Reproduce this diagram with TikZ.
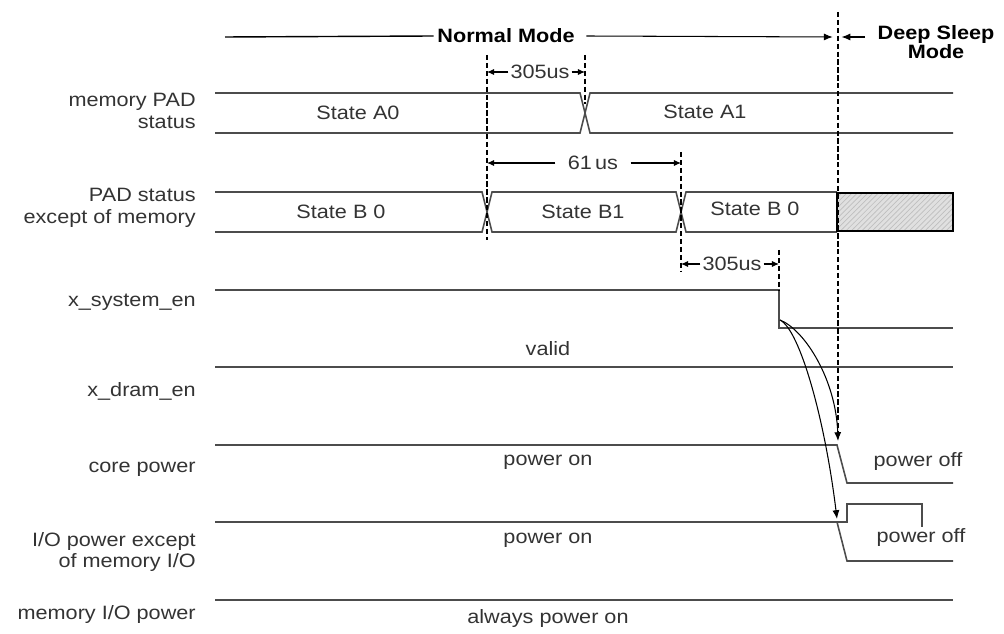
\documentclass[tikz,border=0pt]{standalone}
\usepackage{fontspec}
\setmainfont[FakeStretch=1.12]{Liberation Sans}
\usepackage{xcolor}
\usetikzlibrary{arrows.meta, positioning, calc, patterns}

\begin{document}
\begin{tikzpicture}[
    x=0.02cm, y=-0.02cm,
    font=\fontsize{11}{12.5}\selectfont,
    sig/.style={draw=black!70, line width=0.9pt},
    marker/.style={draw=black, line width=0.8pt, dash pattern=on 3pt off 1.5pt},
    sigtext/.style={text=black!80, inner sep=1pt},
    signame/.style={text=black!80, anchor=east, align=right, inner sep=0pt},
    modetext/.style={font=\fontsize{11}{11}\selectfont\bfseries, align=center, inner sep=2pt},
    dimtext/.style={text=black!80, inner xsep=1pt, inner ysep=1pt},
    arrow/.style={-{Latex[length=5pt, width=4pt]}, draw=black, line width=0.6pt},
    dimarrow/.style={-{Latex[length=4pt, width=3.5pt]}, draw=black, line width=0.6pt}
]
\useasboundingbox (0,0) rectangle (1004,634);

% Signal names
\node[signame] (lmem)  at (196,111) {memory PAD\\status};
\node[signame] (lpad)  at (196,208) {PAD status\\except of memory};
\node[signame] (lsys)  at (196,302) {x\_system\_en};
\node[signame] (ldram) at (196,391) {x\_dram\_en};
\node[signame] (lcore) at (196,469) {core power};
\node[signame] (lio)   at (196,552) {I/O power except\\of memory I/O};
\node[signame] (lmio)  at (196,615) {memory I/O power};

% Mode header
\node[modetext] (normal) at (506,36) {Normal Mode};
\node[modetext] (deep)   at (936,42) {Deep Sleep\\Mode};
\coordinate (hdrL) at (225,37);
\coordinate (sleep) at (838,37);
\draw[draw=black, line width=0.8pt] (hdrL) -- (normal.west);
\draw[arrow] (normal.east) ++(8,0) -- ([xshift=-3pt]sleep);
\draw[arrow] (865,37) -- ([xshift=2pt]sleep);

% memory PAD status
\draw[sig] (215,93) -- (580,93) -- (590,133) -- (953,133);
\draw[sig] (215,133) -- (580,133) -- (590,93) -- (953,93);
\node[sigtext] (sa0) at (358,113) {State A0};
\node[sigtext] (sa1) at (705,112) {State A1};

% PAD status except of memory
\draw[sig] (215,192) -- (482,192) -- (492,232) -- (676,232) -- (686,192) -- (837,192);
\draw[sig] (215,232) -- (482,232) -- (492,192) -- (676,192) -- (686,232) -- (837,232);
\fill[black!12] (837,193) rectangle (953,231);
\fill[pattern=north east lines, pattern color=black!25] (837,193) rectangle (953,231);
\draw[draw=black, line width=0.9pt] (837,193) rectangle (953,231);
\node[sigtext] (sb0) at (341,212) {State B 0};
\node[sigtext] (sb1) at (583,212) {State B1};
\node[sigtext] (sb2) at (755,209) {State B 0};

% x_system_en
\draw[sig] (215,290) -- (779,290) -- (779,328) -- (953,328);

% x_dram_en
\draw[sig] (215,367) -- (953,367);
\node[sigtext] (valid) at (548,349) {valid};

% core power
\draw[sig] (215,445) -- (837,445) -- (847,483) -- (953,483);
\node[sigtext] (coreon)  at (548,462) {power on};
\node[sigtext] (coreoff) at (918,462) {power off};

% I/O power except of memory I/O
\draw[sig] (215,522) -- (847,522) -- (847,504) -- (922,504) -- (922,527);
\draw[sig] (837,522) -- (847,561) -- (953,561);
\node[sigtext] (ioon)  at (548,540) {power on};
\node[sigtext] (iooff) at (921,538) {power off};

% memory I/O power
\draw[sig] (215,600) -- (953,600);
\node[sigtext] (mioon) at (548,619) {always power on};

% timing markers
\draw[marker] (487,55) -- (487,240);
\draw[marker] (585,55) -- (585,104);
\draw[marker] (681,152) -- (681,272);
\draw[marker] (779,250) -- (779,290);
\draw[marker] (838,12) -- (838,436);

% time intervals
\node[dimtext] (t1) at (540,72) {305us};
\draw[dimarrow] (t1.west) -- (487,72);
\draw[dimarrow] (t1.east) -- (585,72);
\node[dimtext, inner xsep=7pt] (t2) at (593,163) {61\,us};
\draw[dimarrow] (t2.west) -- (487,163);
\draw[dimarrow] (t2.east) -- (681,163);
\node[dimtext] (t3) at (732,264) {305us};
\draw[dimarrow] (t3.west) -- (681,264);
\draw[dimarrow] (t3.east) -- (779,264);

% power-down sequence
\coordinate (fall)   at (780,320);
\coordinate (coredn) at (838,441);
\coordinate (iodn)   at (837,519);
\draw[arrow] (fall) .. controls (805,330) and (836,380) .. (coredn);
\draw[arrow] (fall) .. controls (800,330) and (825,420) .. (iodn);

\end{tikzpicture}
\end{document}
